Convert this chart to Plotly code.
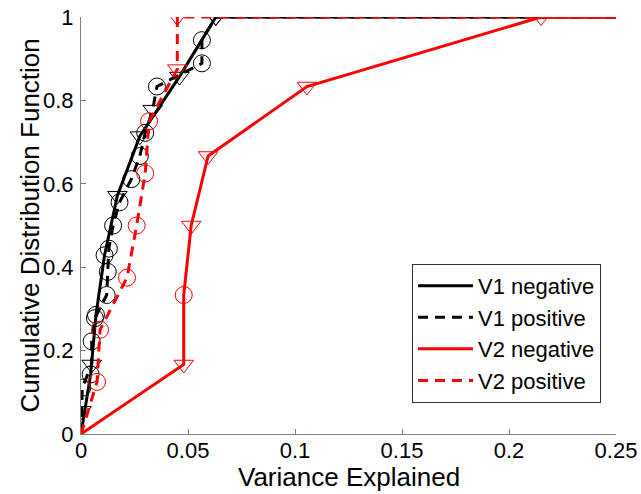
import plotly.graph_objects as go

# ---- data ----
v1_neg_x = [0.0045, 0.007, 0.011, 0.017, 0.0275, 0.046, 0.063]
v1_neg_y = [1/7, 2/7, 3/7, 4/7, 5/7, 6/7, 1.0]
v1_neg_sym = ["circle-open", "circle-open", "circle-open", "triangle-down-open",
              "triangle-down-open", "triangle-down-open", "triangle-down-open"]

v1_pos_x = [0.0003, 0.0006, 0.005, 0.005, 0.0065, 0.012, 0.0125, 0.013, 0.015,
            0.018, 0.0235, 0.0275, 0.030, 0.0335, 0.0355, 0.0565, 0.0565, 0.063]
v1_pos_y = [k / 18 for k in range(1, 19)]
v1_pos_sym = ["triangle-down-open", "circle-open", "triangle-down-open", "circle-open",
              "circle-open", "circle-open", "circle-open", "circle-open", "circle-open",
              "circle-open", "circle-open", "circle-open", "circle-open", "triangle-down-open",
              "circle-open", "circle-open", "circle-open", "triangle-down-open"]

v2_neg_x = [0.048, 0.048, 0.0515, 0.0594, 0.1056, 0.215]
v2_neg_y = [1/6, 2/6, 3/6, 4/6, 5/6, 1.0]
v2_neg_sym = ["triangle-down-open", "circle-open", "triangle-down-open",
              "triangle-down-open", "triangle-down-open", "triangle-down-open"]

v2_pos_x = [0.0075, 0.0089, 0.0215, 0.026, 0.030, 0.0318, 0.045, 0.045]
v2_pos_y = [k / 8 for k in range(1, 9)]
v2_pos_sym = ["circle-open"] * 6 + ["triangle-down-open"] * 2

x_max = 0.25
x_ticks = [0, 0.05, 0.1, 0.15, 0.2, 0.25]
x_tick_text = ["0", "0.05", "0.1", "0.15", "0.2", "0.25"]
y_ticks = [0, 0.2, 0.4, 0.6, 0.8, 1]
y_tick_text = ["0", "0.2", "0.4", "0.6", "0.8", "1"]

series = [
    ("V1 negative", v1_neg_x, v1_neg_y, v1_neg_sym, "#000000", "solid"),
    ("V1 positive", v1_pos_x, v1_pos_y, v1_pos_sym, "#000000", "10px,7px"),
    ("V2 negative", v2_neg_x, v2_neg_y, v2_neg_sym, "#ff0000", "solid"),
    ("V2 positive", v2_pos_x, v2_pos_y, v2_pos_sym, "#ff0000", "10px,7px"),
]

fig = go.Figure()
for name, xs, ys, syms, col, dash in series:
    lx = [0] + xs + [x_max]
    ly = [0] + ys + [1.0]
    fig.add_trace(go.Scatter(x=lx, y=ly, mode="lines", name=name,
                             line=dict(color=col, width=3, dash=dash)))
    fig.add_trace(go.Scatter(x=xs, y=ys, mode="markers", showlegend=False,
                             marker=dict(symbol=syms, size=17, color=col,
                                         line=dict(color=col, width=1))))

axis_common = dict(showgrid=False, zeroline=False, showline=True,
                   linecolor="#7f7f7f", linewidth=1, ticks="inside", ticklen=5,
                   tickcolor="#7f7f7f", tickfont=dict(size=22, color="#000"),
                   mirror=False, automargin=False, ticklabeloverflow="allow")

fig.update_layout(
    width=641, height=494,
    margin=dict(l=81, r=25, t=17, b=60),
    paper_bgcolor="white", plot_bgcolor="white",
    font=dict(family="Liberation Sans, Arial, sans-serif", color="#000"),
    xaxis=dict(range=[0, x_max], tickvals=x_ticks, ticktext=x_tick_text,
               ticklabelstandoff=-3, **axis_common),
    yaxis=dict(range=[0, 1], tickvals=y_ticks, ticktext=y_tick_text,
               ticklabelstandoff=2, **axis_common),
    legend=dict(x=0.972, y=0.408, xanchor="right", yanchor="top",
                bgcolor="white", bordercolor="#333", borderwidth=1,
                font=dict(size=22), tracegroupgap=0, itemwidth=55),
    showlegend=True,
    annotations=[
        dict(text="Variance Explained", xref="paper", yref="paper", x=0.5, y=0,
             xanchor="center", yanchor="top", yshift=-26, showarrow=False,
             font=dict(size=26)),
        dict(text="Cumulative Distribution Function", xref="paper", yref="paper",
             x=0, y=0.5, xanchor="center", yanchor="middle", xshift=-52,
             textangle=-90, showarrow=False, font=dict(size=26)),
    ],
)

fig.write_html("out.html", config={"displayModeBar": False},
               post_script="document.body.style.margin='0';")
